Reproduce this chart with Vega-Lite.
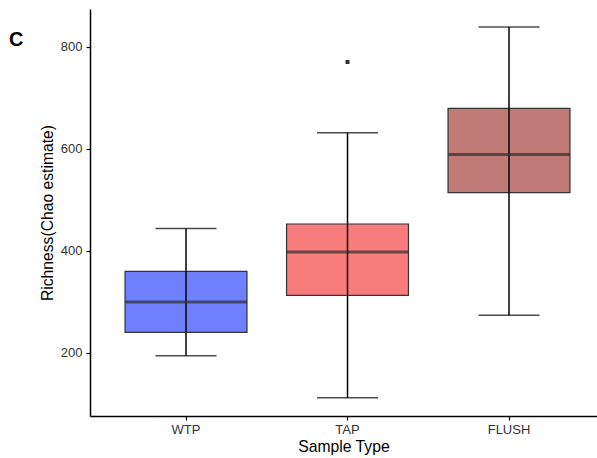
{
  "$schema": "https://vega.github.io/schema/vega-lite/v6.json",
  "autosize": "none",
  "padding": {"left": 90, "top": 9, "right": 0, "bottom": 42},
  "width": 507,
  "height": 407,
  "background": "white",
  "title": {"text": "C", "anchor": "start", "frame": "group", "orient": "top", "dx": -81, "dy": 55, "baseline": "middle", "fontSize": 20, "fontWeight": "bold", "font": "Liberation Sans", "color": "black"},
  "config": {"view": {"stroke": null}, "font": "Liberation Sans"},
  "datasets": {
    "boxes": [
      {"type": "WTP", "lower": 194.7, "q1": 240.5, "median": 300, "q3": 360, "upper": 444},
      {"type": "TAP", "lower": 112.5, "q1": 313, "median": 397.8, "q3": 452.7, "upper": 631.5},
      {"type": "FLUSH", "lower": 273.8, "q1": 514, "median": 589, "q3": 679.3, "upper": 838.6}
    ],
    "outliers": [
      {"type": "TAP", "value": 770}
    ]
  },
  "data": {"name": "boxes"},
  "encoding": {
    "x": {
      "field": "type", "type": "nominal", "sort": ["WTP", "TAP", "FLUSH"],
      "scale": {"paddingInner": 0, "paddingOuter": 0.0697, "align": 0.678},
      "axis": {"title": "Sample Type", "labelAngle": 0, "labelFontSize": 13, "labelColor": "#333333", "titleFontSize": 15.7, "titleFontWeight": "normal", "titleColor": "black", "domainColor": "black", "domainWidth": 1.5, "tickColor": "black", "tickSize": 4, "tickWidth": 1.2, "labelPadding": 3, "titlePadding": 3}
    }
  },
  "layer": [
    {
      "mark": {"type": "rule", "color": "black", "strokeWidth": 1.5},
      "encoding": {
        "y": {"field": "lower", "type": "quantitative", "scale": {"domain": [76.6, 873.8], "nice": false, "zero": false},
          "axis": {"title": "Richness(Chao estimate)", "values": [200, 400, 600, 800], "grid": false, "labelFontSize": 13, "labelColor": "#333333", "titleFontSize": 15.7, "titleFontWeight": "normal", "titleColor": "black", "domainColor": "black", "domainWidth": 1.5, "tickColor": "black", "tickSize": 4, "tickWidth": 1.2, "labelPadding": 4, "titlePadding": 5}},
        "y2": {"field": "upper"}
      }
    },
    {
      "mark": {"type": "tick", "color": "black", "size": 61, "thickness": 1.5, "orient": "horizontal"},
      "encoding": {"y": {"field": "lower", "type": "quantitative"}}
    },
    {
      "mark": {"type": "tick", "color": "black", "size": 61, "thickness": 1.5, "orient": "horizontal"},
      "encoding": {"y": {"field": "upper", "type": "quantitative"}}
    },
    {
      "mark": {"type": "bar", "width": {"band": 0.755}, "stroke": "#333333", "strokeWidth": 1.2, "opacity": 1},
      "encoding": {
        "y": {"field": "q1", "type": "quantitative"},
        "y2": {"field": "q3"},
        "color": {"field": "type", "type": "nominal", "scale": {"domain": ["WTP", "TAP", "FLUSH"], "range": ["#6f80fe", "#f87c7c", "#c07b79"]}, "legend": null}
      }
    },
    {
      "mark": {"type": "rule", "color": "black", "strokeWidth": 1.5},
      "encoding": {
        "y": {"field": "q1", "type": "quantitative"},
        "y2": {"field": "q3"}
      }
    },
    {
      "mark": {"type": "tick", "color": "#2e2e2e", "size": 122, "thickness": 3, "orient": "horizontal"},
      "encoding": {"y": {"field": "median", "type": "quantitative"}}
    },
    {
      "data": {"name": "outliers"},
      "mark": {"type": "square", "color": "#333333", "size": 16, "opacity": 1, "filled": true},
      "encoding": {"y": {"field": "value", "type": "quantitative"}}
    }
  ]
}
